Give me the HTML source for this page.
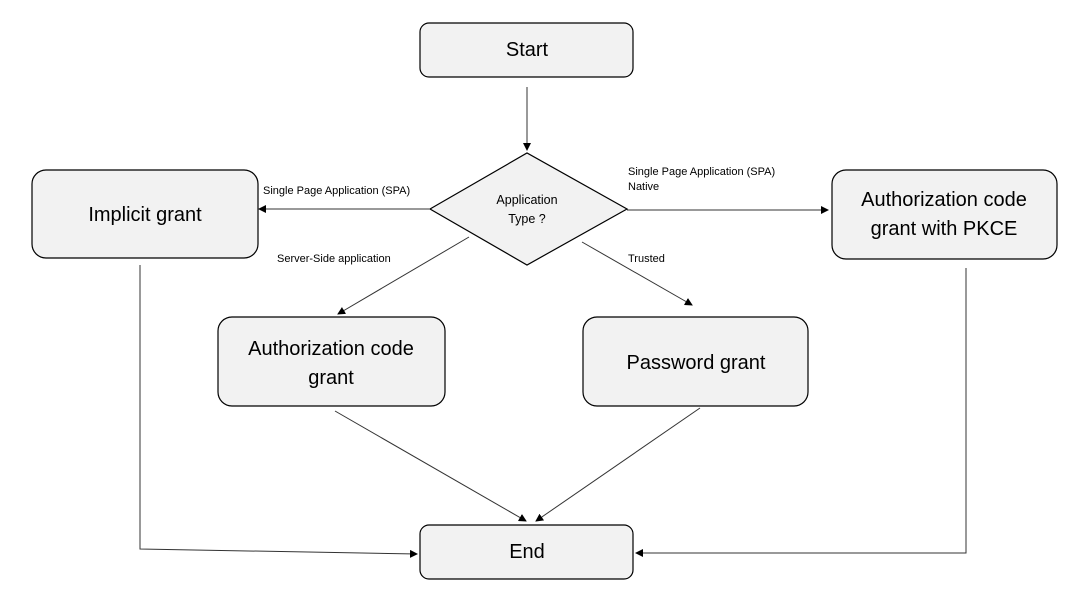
<!DOCTYPE html>
<html><head><meta charset="utf-8"><style>
html,body{margin:0;padding:0;background:#fff;width:1083px;height:601px;overflow:hidden}
text{font-family:"Liberation Sans",sans-serif;fill:#000}
</style></head><body>
<svg width="1083" height="601" viewBox="0 0 1083 601" xmlns="http://www.w3.org/2000/svg">
<defs><marker id="a" markerWidth="8" markerHeight="8" refX="7" refY="4" orient="auto" markerUnits="userSpaceOnUse"><path d="M0,0 L8,4 L0,8 z" fill="#000"/></marker></defs>
<g fill="#f2f2f2" stroke="#000" stroke-width="1.2">
<rect x="420" y="23" width="213" height="54" rx="9"/>
<polygon points="430,209 527,153 627,209 527,265"/>
<rect x="32" y="170" width="226" height="88" rx="14"/>
<rect x="832" y="170" width="225" height="89" rx="14"/>
<rect x="218" y="317" width="227" height="89" rx="14"/>
<rect x="583" y="317" width="225" height="89" rx="14"/>
<rect x="420" y="525" width="213" height="54" rx="9"/>
</g>
<g stroke="#333" stroke-width="1" fill="none">
<line x1="527" y1="87" x2="527" y2="150" marker-end="url(#a)"/>
<line x1="430" y1="209" x2="259" y2="209" marker-end="url(#a)"/>
<line x1="627" y1="210" x2="828" y2="210" marker-end="url(#a)"/>
<line x1="469" y1="237" x2="338" y2="314" marker-end="url(#a)"/>
<line x1="582" y1="242" x2="692" y2="305" marker-end="url(#a)"/>
<line x1="335" y1="411" x2="526" y2="521" marker-end="url(#a)"/>
<line x1="700" y1="408" x2="536" y2="521" marker-end="url(#a)"/>
<polyline points="140,265 140,549 417,554" marker-end="url(#a)"/>
<polyline points="966,268 966,553 636,553" marker-end="url(#a)"/>
</g>
<g font-size="20" text-anchor="middle">
<text x="527" y="56">Start</text>
<text x="145" y="221">Implicit grant</text>
<text x="944" y="206">Authorization code</text>
<text x="944" y="235">grant with PKCE</text>
<text x="331" y="355">Authorization code</text>
<text x="331" y="384">grant</text>
<text x="696" y="369">Password grant</text>
<text x="527" y="558">End</text>
</g>
<g font-size="12.5" text-anchor="middle">
<text x="527" y="204">Application</text>
<text x="527" y="223">Type ?</text>
</g>
<g font-size="11">
<text x="263" y="194">Single Page Application (SPA)</text>
<text x="628" y="175">Single Page Application (SPA)</text>
<text x="628" y="190">Native</text>
<text x="277" y="262">Server-Side application</text>
<text x="628" y="262">Trusted</text>
</g>
</svg>
</body></html>
